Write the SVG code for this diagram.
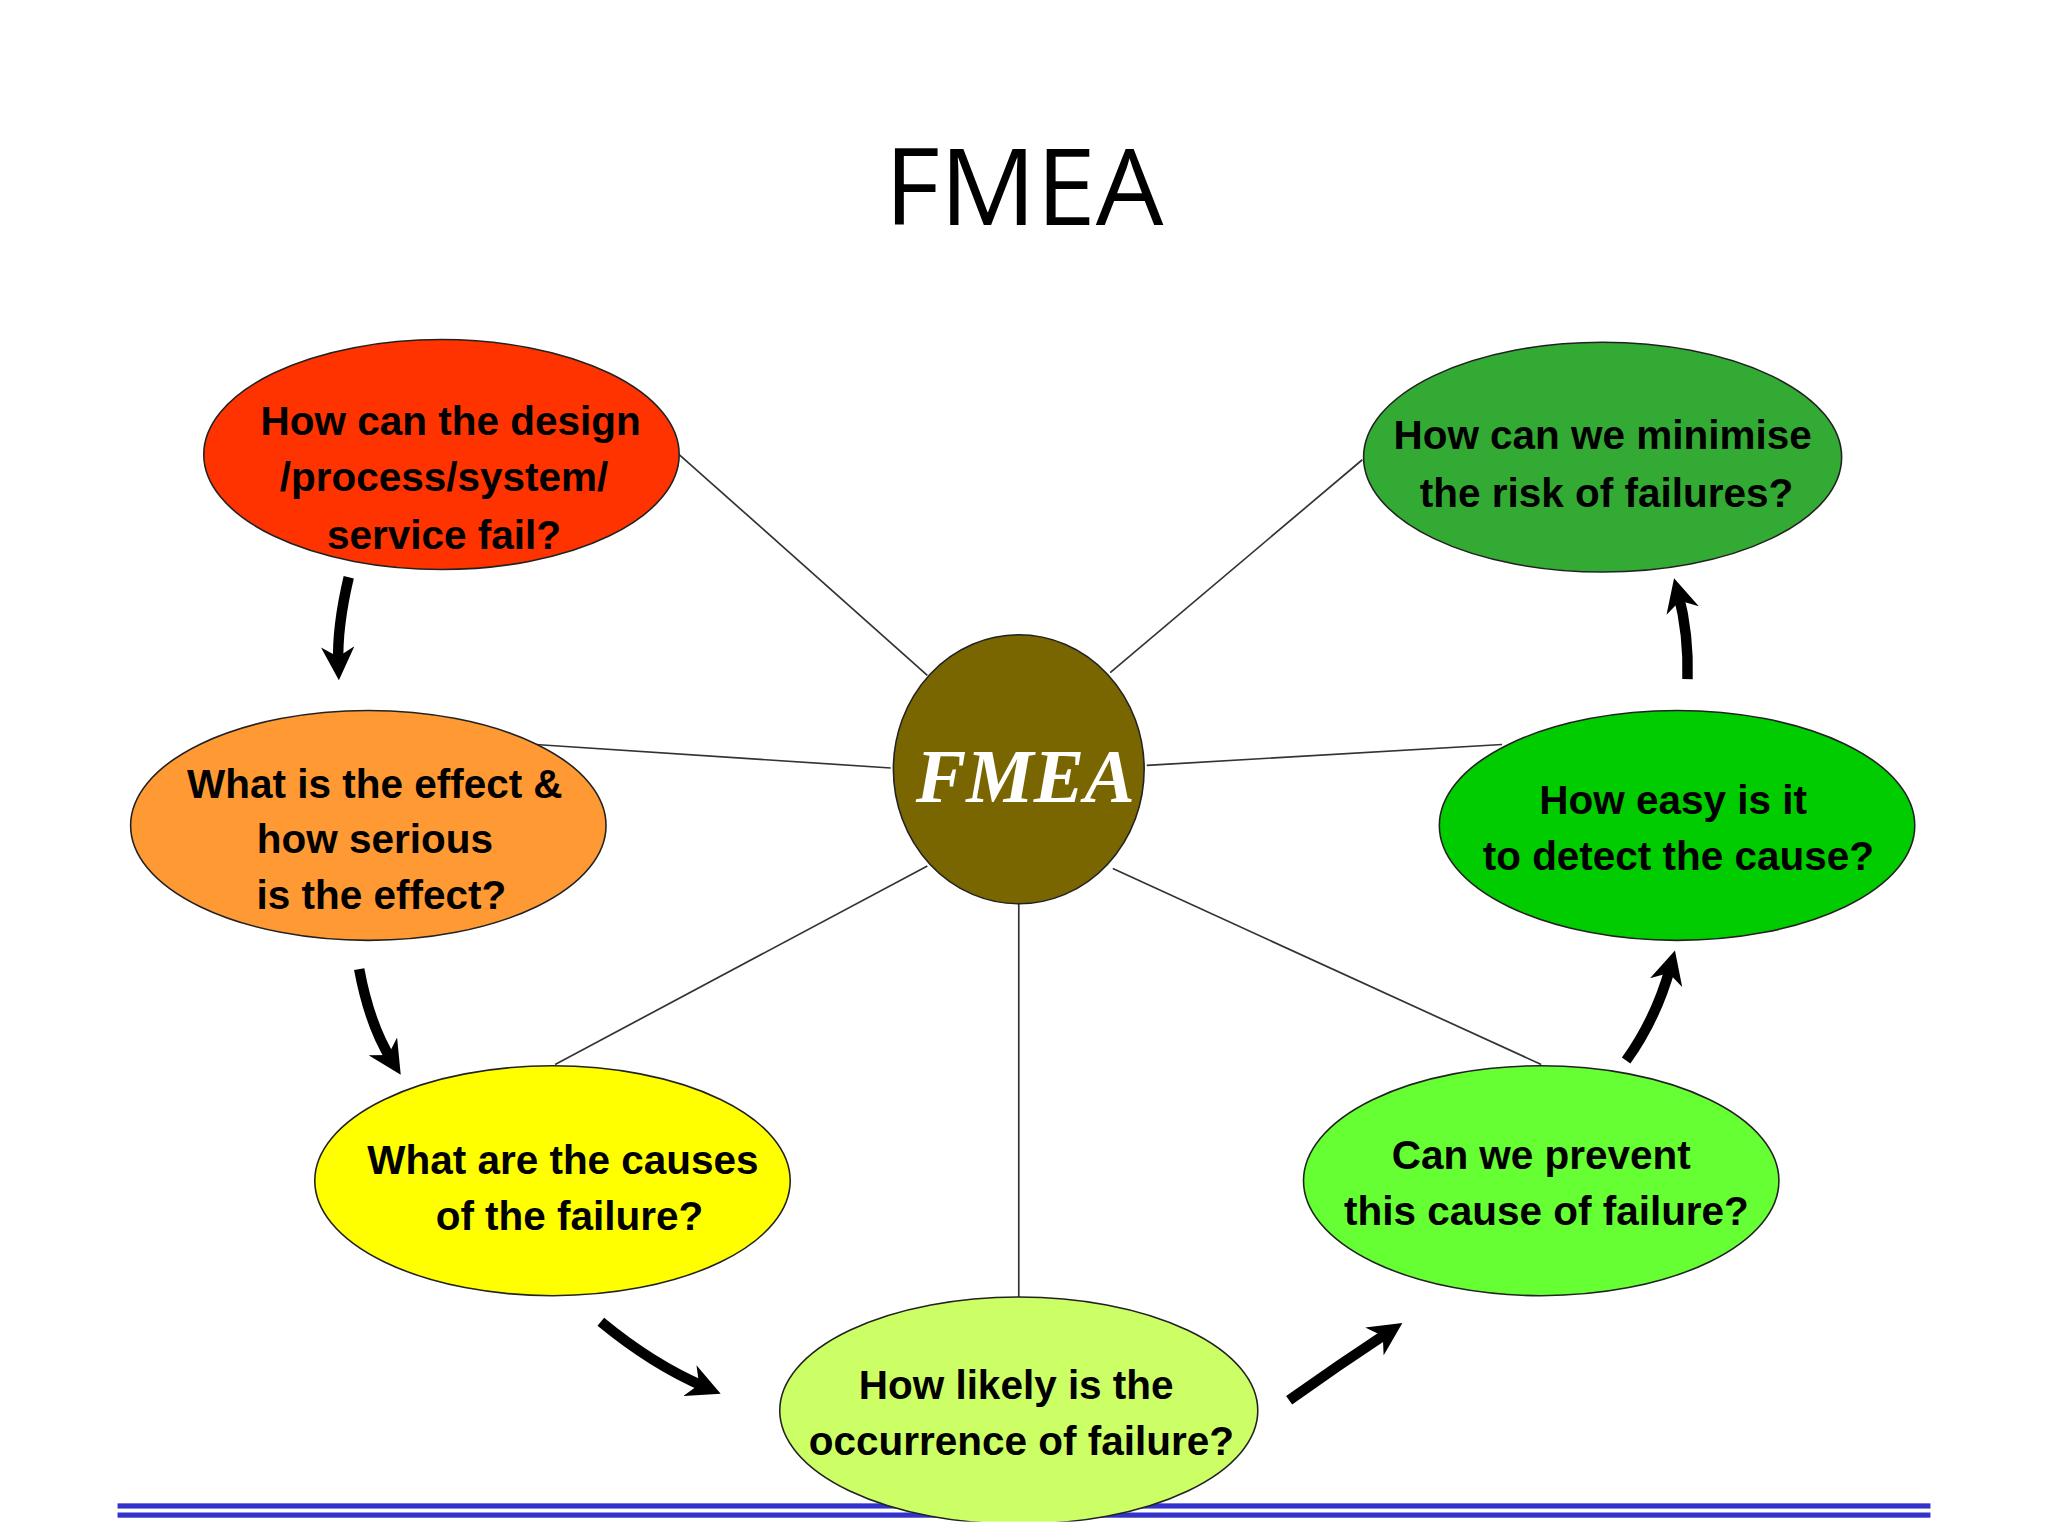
<svg xmlns="http://www.w3.org/2000/svg" width="2048" height="1536" viewBox="0 0 2048 1536">
<defs>
<style>
.n{stroke:#222;stroke-width:1.2}
.t{font-family:"Liberation Sans",Arial,sans-serif;font-weight:bold;font-size:31px;fill:#000;text-anchor:middle}
.c line{stroke:#333;stroke-width:1.3}
.a{fill:none;stroke:#000;stroke-width:8}
</style>
<marker id="ah" viewBox="0 0 10 10" refX="5" refY="5" markerWidth="3.2" markerHeight="3.2" orient="auto"><path d="M0,0L10,5L0,10L3,5z" fill="#000"/></marker>
</defs>
<rect width="2048" height="1536" fill="#fff"/>
<g transform="scale(1.30612)">
<text x="784" y="172" font-family="'Open Sans','Liberation Sans',sans-serif" font-size="82" text-anchor="middle">FMEA</text>
<g class="c" id="connectors">
<line x1="710" y1="517" x2="520" y2="348"/>
<line x1="850" y1="515" x2="1043" y2="352"/>
<line x1="682" y1="588" x2="410" y2="570"/>
<line x1="878" y1="586" x2="1150" y2="570"/>
<line x1="710" y1="663" x2="425" y2="815"/>
<line x1="852" y1="665" x2="1180" y2="815"/>
<line x1="780" y1="692" x2="780" y2="993"/>
<path class="a" marker-end="url(#ah)" d="M267,442 Q258,480 259,508"/>
<path class="a" marker-end="url(#ah)" d="M275,742 Q283,785 300,812"/>
<path class="a" marker-end="url(#ah)" d="M460,1012 Q500,1045 540,1062"/>
<path class="a" marker-end="url(#ah)" d="M987,1072 Q1025,1045 1063,1020"/>
<path class="a" marker-end="url(#ah)" d="M1245,812 Q1268,780 1279,740"/>
<path class="a" marker-end="url(#ah)" d="M1292,520 Q1293,485 1285,455"/>
</g>
<rect x="90" y="1151" width="1388" height="4" fill="#3333cc"/>
<rect x="90" y="1158" width="1388" height="4" fill="#3333cc"/>
<g id="n7"><ellipse class="n" cx="780" cy="1080" rx="183" ry="87" fill="#ccff66"/>
<text class="t" x="778" y="1071">How likely is the</text><text class="t" x="782" y="1114">occurrence of failure?</text></g>
<rect x="0" y="1165" width="1568" height="20" fill="#fff"/>
<g id="n1"><ellipse class="n" cx="338" cy="348" rx="182" ry="88" fill="#ff3300"/>
<text class="t" x="345" y="333">How can the design</text><text class="t" x="340" y="376">/process/system/</text><text class="t" x="340" y="420">service fail?</text></g>
<g id="n2"><ellipse class="n" cx="1227" cy="350" rx="183" ry="88" fill="#33aa33"/>
<text class="t" x="1227" y="344">How can we minimise</text><text class="t" x="1230" y="388">the risk of failures?</text></g>
<g id="n3"><ellipse class="n" cx="282" cy="632" rx="182" ry="88" fill="#ff9933"/>
<text class="t" x="287" y="611">What is the effect &amp;</text><text class="t" x="287" y="653">how serious</text><text class="t" x="292" y="696">is the effect?</text></g>
<g id="n4"><ellipse class="n" cx="1284" cy="632" rx="182" ry="88" fill="#00cc00"/>
<text class="t" x="1281" y="623">How easy is it</text><text class="t" x="1285" y="666">to detect the cause?</text></g>
<g id="n5"><ellipse class="n" cx="423" cy="904" rx="182" ry="88" fill="#ffff00"/>
<text class="t" x="431" y="899">What are the causes</text><text class="t" x="436" y="942">of the failure?</text></g>
<g id="n6"><ellipse class="n" cx="1180" cy="904" rx="182" ry="88" fill="#66ff33"/>
<text class="t" x="1180" y="895">Can we prevent</text><text class="t" x="1184" y="938">this cause of failure?</text></g>
<g id="center"><ellipse class="n" cx="780" cy="589" rx="96" ry="103" fill="#7a6600"/>
<text x="785" y="614" font-family="'Liberation Serif',serif" font-style="italic" font-weight="bold" font-size="58" fill="#fff" text-anchor="middle">FMEA</text></g>
</g>
</svg>
